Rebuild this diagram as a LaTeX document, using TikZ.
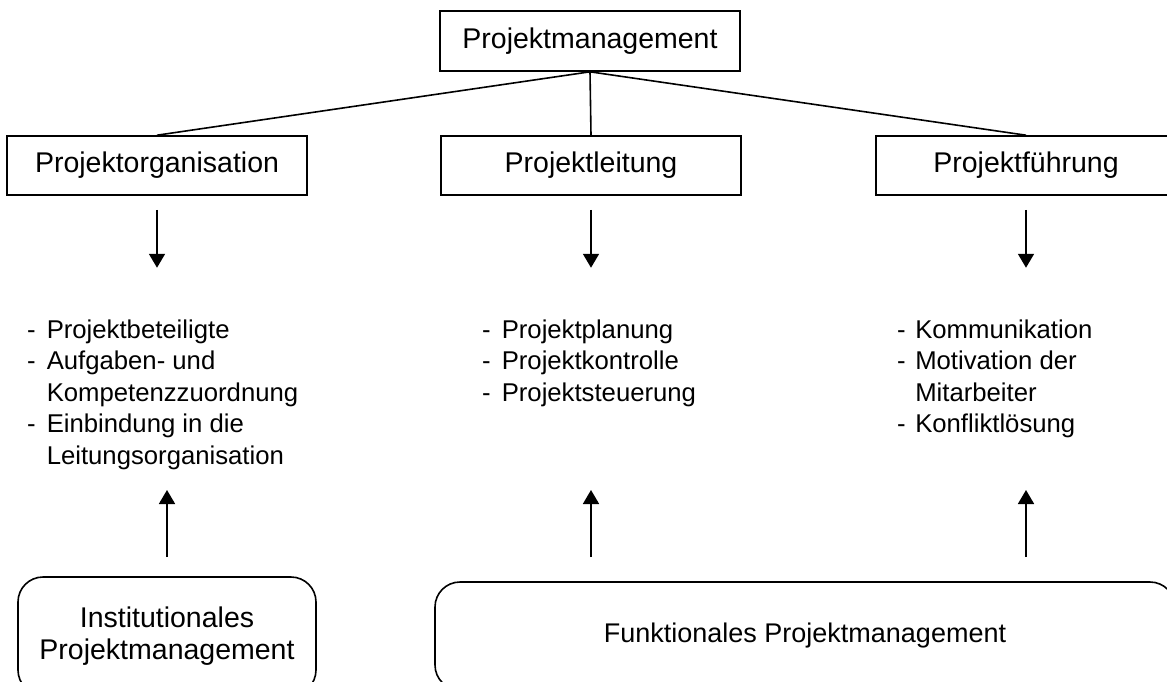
\documentclass[tikz,border=0pt]{standalone}
\usepackage{fontspec}
\setmainfont{Liberation Sans}
\usetikzlibrary{arrows.meta}
\begin{document}
\begin{tikzpicture}[x=1pt,y=-1pt,
  box/.style={draw, line width=1.6pt, minimum width=300pt, minimum height=60pt, inner sep=0pt, font=\fontsize{28.5}{34}\selectfont},
  rbox/.style={draw, line width=1.6pt, rounded corners=25pt, inner sep=0pt, align=center},
  link/.style={line width=1.6pt},
  arr/.style={line width=1.8pt, -{Triangle[width=16pt,length=14pt]}},
  lst/.style={anchor=base west, inner sep=0pt, font=\fontsize{25.7}{31.5}\selectfont}
]
\useasboundingbox (0,0) rectangle (1167,681);
\fill[white] (0,0) rectangle (1167,681);
% top level
\node[box] (pm) at (590,41) {Projektmanagement};
\node[box, minimum height=59pt] (po) at (157,165.5) {Projektorganisation};
\node[box, minimum height=59pt] (pl) at (591,165.5) {Projektleitung};
\node[box, minimum height=59pt] (pf) at (1026,165.5) {Projektführung};
\draw[link] (pm.south) -- (po.north);
\draw[link] (pm.south) -- (pl.north);
\draw[link] (pm.south) -- (pf.north);
% lists
\node[lst] (l1) at (27,338) {\begin{tabular}[t]{@{}l@{\hspace{11pt}}l@{}}
-&Projektbeteiligte\\
-&Aufgaben- und\\
&Kompetenzzuordnung\\
-&Einbindung in die\\
&Leitungsorganisation
\end{tabular}};
\node[lst] (l2) at (482,338) {\begin{tabular}[t]{@{}l@{\hspace{11pt}}l@{}}
-&Projektplanung\\
-&Projektkontrolle\\
-&Projektsteuerung
\end{tabular}};
\node[lst] (l3) at (897,338) {\begin{tabular}[t]{@{}l@{\hspace{9.5pt}}l@{}}
-&Kommunikation\\
-&Motivation der\\
&Mitarbeiter\\
-&Konfliktlösung
\end{tabular}};
% down arrows
\draw[arr, shorten <=14pt, shorten >=48pt] (po.south) -- (po.south |- l1.north);
\draw[arr, shorten <=14pt, shorten >=48pt] (pl.south) -- (pl.south |- l1.north);
\draw[arr, shorten <=14pt, shorten >=48pt] (pf.south) -- (pf.south |- l1.north);
% bottom boxes
\node[rbox, minimum width=298pt, minimum height=118pt, font=\fontsize{28.5}{32}\selectfont] (ip) at (167,636) {Institutionales\\Projektmanagement};
\node[rbox, minimum width=740pt, minimum height=108pt, font=\fontsize{27}{32}\selectfont] (fp) at (805,636) {Funktionales Projektmanagement};
% up arrows
\coordinate (u1) at (0,490);
\draw[arr, shorten <=19pt] (ip.north) -- (ip.north |- u1);
\draw[arr, shorten <=24pt] (pl.south |- fp.north) -- (pl.south |- u1);
\draw[arr, shorten <=24pt] (pf.south |- fp.north) -- (pf.south |- u1);
\end{tikzpicture}
\end{document}
